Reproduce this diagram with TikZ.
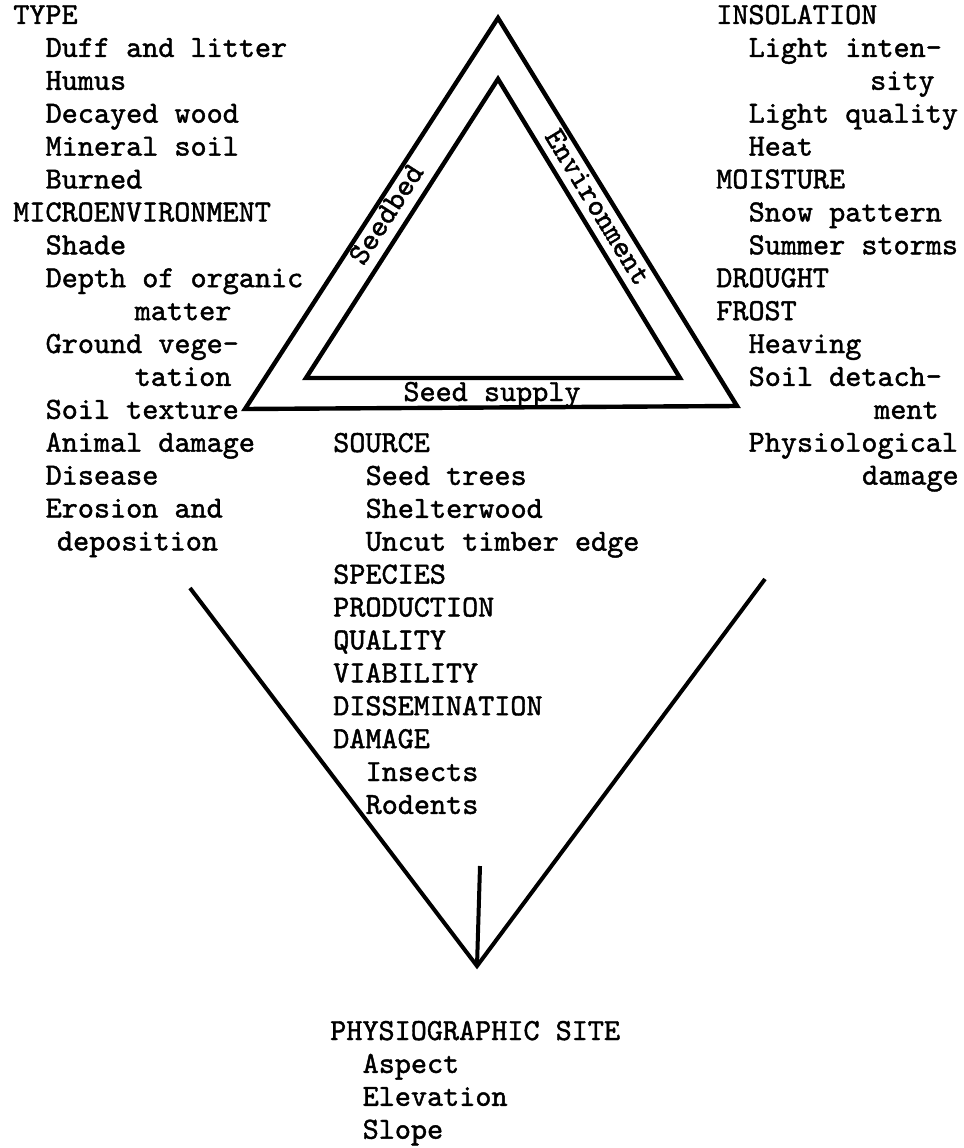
\documentclass[tikz,border=0pt]{standalone}
\usepackage{fontspec}
\newfontfamily\typer{lmmono10-regular}[Extension=.otf,FakeBold=1.4]
\usetikzlibrary{calc}

\tikzset{
  item/.style={anchor=base west, inner sep=0pt, font=\typer\fontsize{23}{24.7}\selectfont},
  side/.style={inner sep=0pt, font=\typer\fontsize{23}{24.7}\selectfont},
  frame/.style={line width=3.3pt},
}

\begin{document}
\begin{tikzpicture}[x=0.75pt, y=-0.75pt]
    \useasboundingbox (0,0) rectangle (963,1148);
    % the triangle
    \coordinate (otop) at (498,18);
    \coordinate (oleft) at (245,409);
    \coordinate (oright) at (737,406);
    \coordinate (itop) at (498,79);
    \coordinate (ileft) at (306,378);
    \coordinate (iright) at (680,378);
    \draw[frame] (otop) -- (oleft) -- (oright) -- cycle;
    \draw[frame] (itop) -- (ileft) -- (iright) -- cycle;
    \node[side, rotate=57.2] (seedbed) at (386,214) {Seedbed};
    \node[side, rotate=-58.6] (environment) at (598,207) {Environment};
    \node[side, anchor=base] (seedsupply) at (492,401) {Seed supply};
    % the funnel
    \coordinate (fleft) at (190,588);
    \coordinate (fright) at (765,579);
    \coordinate (fbottom) at (477,966);
    \coordinate (fstem) at (480,866);
    \draw[frame, line width=3pt] (fleft) -- (fbottom) -- (fright);
    \draw[frame, line width=3pt] (fstem) -- (fbottom);
    % seedbed
    \foreach \ind/\txt [count=\k] in {0/TYPE, 2/Duff and litter, 2/Humus,
        2/Decayed wood, 2/Mineral soil, 2/Burned, 0/MICROENVIRONMENT, 2/Shade,
        2/Depth of organic, 7.5/matter, 2/Ground vege-, 7.5/tation,
        2/Soil texture, 2/Animal damage, 2/Disease, 2/Erosion and, 2.7/deposition}
        \node[item] (seedbed-\k) at ({13+16.2*\ind},{24+32.9*(\k-1)}) {\txt};
    % environment
    \foreach \ind/\txt [count=\k] in {0/INSOLATION, 2/Light inten-, 9.5/sity,
        2/Light quality, 2/Heat, 0/MOISTURE, 2/Snow pattern, 2/Summer storms,
        0/DROUGHT, 0/FROST, 2/Heaving, 2/Soil detach-, 9.75/ment,
        2/Physiological, 9/damage}
        \node[item] (env-\k) at ({716+16.2*\ind},{24+32.9*(\k-1)}) {\txt};
    % seed supply
    \foreach \ind/\txt [count=\k] in {0/SOURCE, 2/Seed trees, 2/Shelterwood,
        2/Uncut timber edge, 0/SPECIES, 0/PRODUCTION, 0/QUALITY, 0/VIABILITY,
        0/DISSEMINATION, 0/DAMAGE, 2/Insects, 2/Rodents}
        \node[item] (supply-\k) at ({333+16.2*\ind},{452+32.9*(\k-1)}) {\txt};
    % site
    \foreach \ind/\txt [count=\k] in {0/PHYSIOGRAPHIC SITE, 2/Aspect,
        2/Elevation, 2/Slope}
        \node[item] (site-\k) at ({330+16.2*\ind},{1040+32.9*(\k-1)}) {\txt};
\end{tikzpicture}
\end{document}
